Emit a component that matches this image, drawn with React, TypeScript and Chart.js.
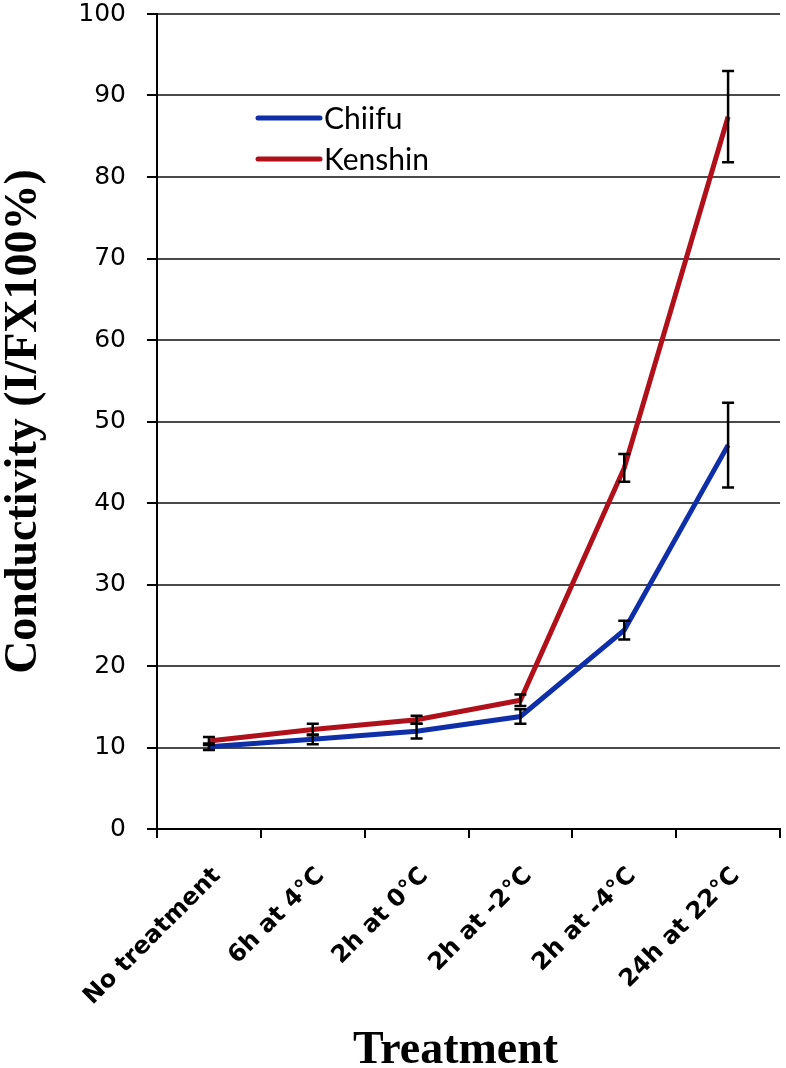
import React, { useEffect, useRef } from "react";
import { Chart, registerables } from "chart.js";

Chart.register(...registerables);

const categories = ["No treatment", "6h at 4°C", "2h at 0°C", "2h at -2°C", "2h at -4°C", "24h at 22°C"];
const chiifuValues = [10.1, 11.0, 12.0, 13.8, 24.4, 47.1];
const chiifuErrors = [0.4, 0.6, 0.9, 0.9, 1.15, 5.2];
const kenshinValues = [10.8, 12.2, 13.4, 15.8, 44.3, 87.4];
const kenshinErrors = [0.5, 0.7, 0.5, 0.7, 1.7, 5.6];
const yMin = 0;
const yMax = 100;
const yStep = 10;
const seriesNames = ["Chiifu", "Kenshin"];
const seriesColors = ["#0f2fa8", "#b0101a"];
const yTitle = "Conductivity (I/FX100%)";
const xTitle = "Treatment";

const errorSets = [chiifuErrors, kenshinErrors];

const errorBarPlugin = {
  id: "errorBars",
  afterDatasetsDraw(chart: any) {
    const ctx = chart.ctx;
    const ys = chart.scales.y;
    ctx.save();
    ctx.strokeStyle = "#000";
    ctx.lineWidth = 2.5;
    chart.data.datasets.forEach((ds: any, i: number) => {
      const meta = chart.getDatasetMeta(i);
      const errs = errorSets[i];
      meta.data.forEach((pt: any, j: number) => {
        const v = ds.data[j];
        const e = errs[j];
        const x = pt.x;
        const yT = ys.getPixelForValue(v + e);
        const yB = ys.getPixelForValue(v - e);
        const cap = 6;
        ctx.beginPath();
        ctx.moveTo(x, yT);
        ctx.lineTo(x, yB);
        ctx.moveTo(x - cap, yT);
        ctx.lineTo(x + cap, yT);
        ctx.moveTo(x - cap, yB);
        ctx.lineTo(x + cap, yB);
        ctx.stroke();
      });
    });
    ctx.restore();
  },
};

const legendPlugin = {
  id: "insideLegend",
  afterDraw(chart: any) {
    const ctx = chart.ctx;
    ctx.save();
    const x0 = 258;
    const x1 = 320;
    const rows = [118, 159];
    seriesNames.forEach((name, i) => {
      const y = rows[i];
      ctx.strokeStyle = seriesColors[i];
      ctx.lineWidth = 5;
      ctx.lineCap = "round";
      ctx.beginPath();
      ctx.moveTo(x0, y);
      ctx.lineTo(x1, y);
      ctx.stroke();
      ctx.fillStyle = "#000";
      ctx.font = "30px Lato";
      ctx.textAlign = "left";
      ctx.textBaseline = "middle";
      ctx.fillText(name, x1 + 4, y + 1);
    });
    ctx.restore();
  },
};

const xTitlePlugin = {
  id: "xTitle",
  afterDraw(chart: any) {
    const ctx = chart.ctx;
    const area = chart.chartArea;
    ctx.save();
    ctx.fillStyle = "#000";
    ctx.font = "bold 46px 'Liberation Serif'";
    ctx.textAlign = "center";
    ctx.textBaseline = "alphabetic";
    ctx.fillText(xTitle, (area.left + area.right) / 2 - 13, 1063);
    ctx.restore();
  },
};

export default function App() {
  const canvasRef = useRef<HTMLCanvasElement | null>(null);

  useEffect(() => {
    document.body.style.margin = "0";
    const canvas = canvasRef.current;
    if (!canvas) return;
    const chart = new Chart(canvas, {
      type: "line",
      data: {
        labels: categories,
        datasets: [
          {
            label: seriesNames[0],
            data: chiifuValues,
            borderColor: seriesColors[0],
            backgroundColor: seriesColors[0],
            borderWidth: 5,
            pointRadius: 0,
            tension: 0,
          },
          {
            label: seriesNames[1],
            data: kenshinValues,
            borderColor: seriesColors[1],
            backgroundColor: seriesColors[1],
            borderWidth: 5,
            pointRadius: 0,
            tension: 0,
          },
        ],
      },
      options: {
        responsive: false,
        animation: false,
        devicePixelRatio: 1,
        layout: { padding: { top: 14, right: 6, left: 0, bottom: 0 } },
        plugins: {
          legend: { display: false },
          tooltip: { enabled: false },
        },
        scales: {
          x: {
            type: "category",
            offset: true,
            afterFit(scale: any) {
              scale.height = 239;
              scale.paddingLeft = 0;
              scale.paddingRight = 0;
            },
            grid: {
              offset: true,
              drawOnChartArea: false,
              drawTicks: true,
              tickLength: 9,
              color: "#000",
              lineWidth: 2,
            },
            border: { color: "#000", width: 2 },
            ticks: {
              autoSkip: false,
              maxRotation: 45,
              minRotation: 45,
              padding: 24,
              labelOffset: 8,
              color: "#000",
              font: { family: "'DejaVu Sans'", size: 24, weight: "bold" },
            },
          },
          y: {
            min: yMin,
            max: yMax,
            afterFit(scale: any) {
              scale.width = 157;
              scale.paddingTop = 0;
              scale.paddingBottom = 0;
            },
            grid: {
              color: "#4a4a4a",
              lineWidth: 2,
              tickLength: 10,
              tickColor: "#000",
            },
            border: { color: "#000", width: 2 },
            ticks: {
              stepSize: yStep,
              padding: 21,
              color: "#000",
              font: { family: "'DejaVu Sans'", size: 25 },
            },
            title: {
              display: true,
              text: yTitle,
              color: "#000",
              padding: { top: 1, bottom: 0 },
              font: { family: "'Liberation Serif'", size: 46, weight: "bold", lineHeight: 1 },
            },
          },
        },
      },
      plugins: [errorBarPlugin, legendPlugin, xTitlePlugin],
    } as any);
    return () => chart.destroy();
  }, []);

  return (
    <div style={{ width: 786, height: 1068 }}>
      <canvas ref={canvasRef} width={786} height={1068} style={{ display: "block" }} />
    </div>
  );
}
